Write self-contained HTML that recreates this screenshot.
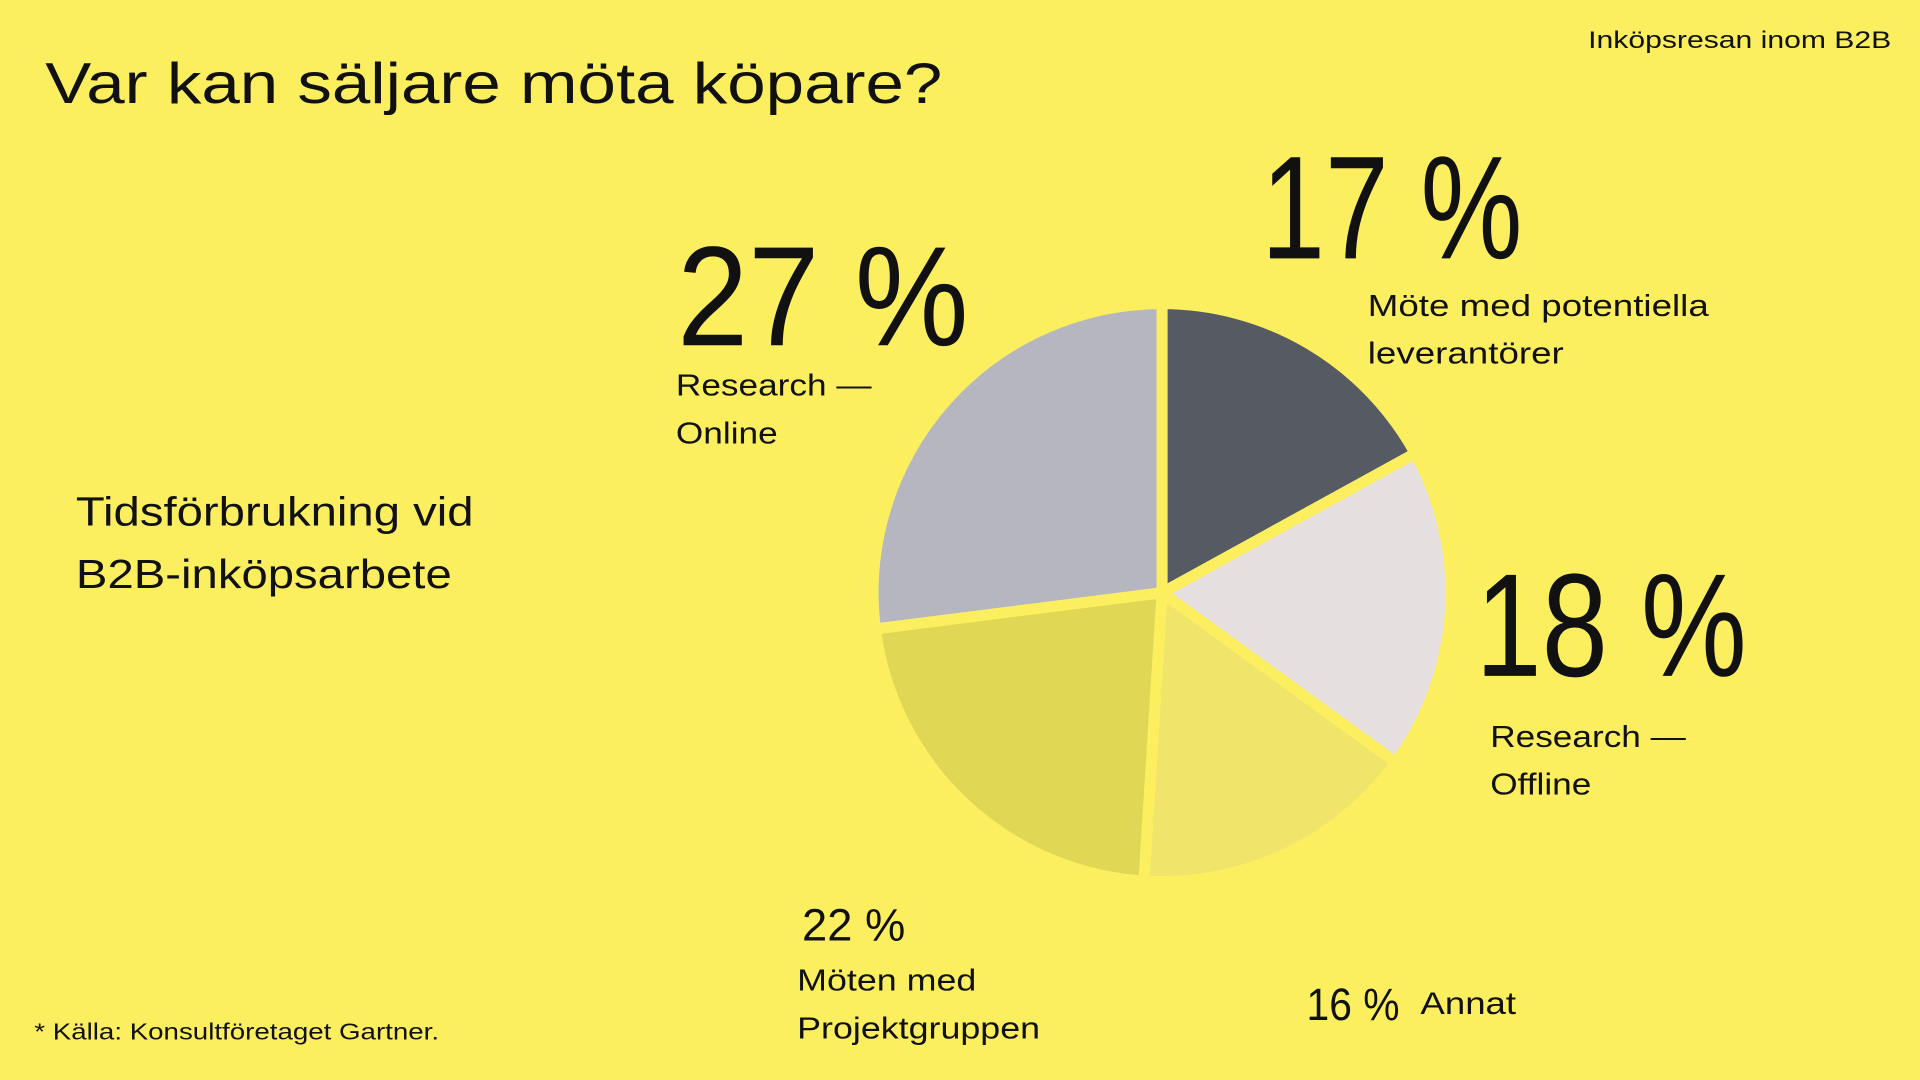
<!DOCTYPE html>
<html><head><meta charset="utf-8"><style>
html,body{margin:0;padding:0;background:#fcef5f;overflow:hidden}
#w{position:absolute;left:0;top:0;width:1568px;height:882px;transform:scale(1.22449);transform-origin:0 0;font-family:"Liberation Sans",sans-serif;color:#111}
.t{position:absolute;white-space:nowrap;line-height:1;transform-origin:0 0}
</style></head><body><div id="w">
<svg width="1568" height="882" style="position:absolute;left:0;top:0">
<g stroke="#fcef5f" stroke-width="9" stroke-linejoin="miter">
<path d="M949,484 L949,248 A236,236 0 0 1 1155.8,370.3 Z" fill="#565a62"/>
<path d="M949,484 L1155.8,370.3 A236,236 0 0 1 1139.9,622.7 Z" fill="#e6dfdf"/>
<path d="M949,484 L1139.9,622.7 A236,236 0 0 1 934.2,719.5 Z" fill="#f0e46a"/>
<path d="M949,484 L934.2,719.5 A236,236 0 0 1 714.9,513.6 Z" fill="#e0d855"/>
<path d="M949,484 L714.9,513.6 A236,236 0 0 1 949,248 Z" fill="#b6b6c0"/>
</g></svg>
<div class="t" style="left:37px;top:44px;font-size:47px;transform:scaleX(1.2)">Var kan säljare möta köpare?</div>
<div class="t" style="left:1297px;top:23px;font-size:20px;transform:scaleX(1.23)">Inköpsresan inom B2B</div>
<div class="t" style="left:1030px;top:110px;font-size:120px;transform:scaleX(0.78)">17 %</div>
<div class="t" style="left:1117px;top:231px;font-size:25px;line-height:39px;transform:scaleX(1.2)">Möte med potentiella<br>leverantörer</div>
<div class="t" style="left:553px;top:184px;font-size:116px;transform:scaleX(0.9)">27 %</div>
<div class="t" style="left:552px;top:296px;font-size:25px;line-height:39px;transform:scaleX(1.15)">Research —<br>Online</div>
<div class="t" style="left:1205px;top:451px;font-size:120px;transform:scaleX(0.81)">18 %</div>
<div class="t" style="left:1217px;top:583px;font-size:25px;line-height:39px;transform:scaleX(1.15)">Research —<br>Offline</div>
<div class="t" style="left:62px;top:392px;font-size:33px;line-height:51px;transform:scaleX(1.17)">Tidsförbrukning vid<br>B2B-inköpsarbete</div>
<div class="t" style="left:655px;top:737px;font-size:37px">22 %</div>
<div class="t" style="left:651px;top:782px;font-size:25px;line-height:39px;transform:scaleX(1.17)">Möten med<br>Projektgruppen</div>
<div class="t" style="left:1067px;top:802px;font-size:37px;transform:scaleX(0.9)">16 %</div>
<div class="t" style="left:1160px;top:806px;font-size:26px;transform:scaleX(1.15)">Annat</div>
<div class="t" style="left:28px;top:834px;font-size:19px;transform:scaleX(1.19)">* Källa: Konsultföretaget Gartner.</div>
</div></body></html>
